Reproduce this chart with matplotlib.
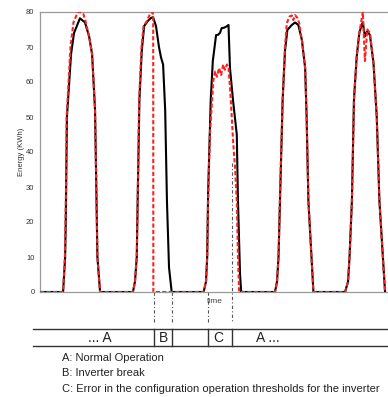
import matplotlib
matplotlib.use("Agg")
import matplotlib.pyplot as plt
from matplotlib.lines import Line2D
import matplotlib.transforms as mtransforms

plt.rcParams['font.family'] = ['Liberation Sans', 'DejaVu Sans']

# Measured energy (black solid) - time in hours
black_t = [0, 7.8, 8.5, 8.7, 8.8, 9.1, 10.5, 11.5, 13.5, 15.2, 16.6, 17.6, 18.6, 19.1, 19.4, 20.3,
           31.4, 32.1, 32.7, 33.0, 33.6, 34.4, 35.2, 36.5, 37.5, 38.2, 39.2, 40.2, 40.9, 41.6, 42.3, 42.9, 43.6, 44.5,
           55.3, 56.1, 56.5, 56.8, 57.7, 58.4, 59.5, 60.2, 60.8, 61.4, 62.2, 63.3, 63.7, 64.2, 65.2, 66.5, 66.9, 67.6, 68.0,
           79.4, 80.1, 80.6, 81.1, 82.0, 82.8, 83.6, 85.1, 86.2, 87.3, 88.5, 89.6, 90.1, 90.7, 92.4,
           103.1, 104.1, 104.6, 105.4, 106.1, 107.0, 107.9, 108.7, 109.1, 109.8, 110.6, 111.5, 112.7, 113.8, 114.7, 116.6]
black_v = [0, 0, 10, 20, 27, 50, 68, 74, 78.2, 77, 73, 68, 52, 26, 10, 0,
           0, 3, 10, 26, 55, 69, 76, 77.5, 78.3, 78.5, 76, 70, 67, 65, 52, 26, 7, 0,
           0, 3, 10, 28, 55, 66, 73.4, 73.5, 74, 75.4, 75.5, 76, 76.3, 64, 55, 45, 26, 5, 0,
           0, 3, 10, 26, 55, 69, 74.9, 76.3, 77, 76.3, 72, 64, 50, 26, 0,
           0, 3, 10, 26, 55, 67, 74, 76.3, 77, 73, 74.5, 73.4, 65.4, 50, 26, 0]

# Expected energy (red dashed)
red_t = [0, 7.8, 8.4, 8.6, 8.8, 9.0, 10.3, 11.3, 12.8, 13.6, 14.6, 15.2, 16.6, 17.6, 18.6, 19.1, 19.4, 20.3,
         31.4, 32.1, 32.7, 33.0, 33.5, 34.3, 35.0, 36.2, 37.2, 38.0, 38.25, 38.3,
         55.3, 56.1, 56.5, 56.8, 57.4, 58.6, 59.2, 59.8, 60.5, 61.2, 61.9, 62.5, 63.2, 63.7, 64.2, 64.8, 65.3, 65.9, 66.5, 66.9, 67.3,
         79.4, 80.1, 80.6, 81.1, 82.0, 82.8, 83.4, 84.3, 85.1, 85.6, 86.2, 87.0, 87.6, 88.5, 89.6, 90.1, 90.7, 92.4,
         103.1, 104.1, 104.6, 105.4, 106.1, 107.0, 107.9, 108.7, 109.1, 109.8, 110.6, 111.5, 112.7, 113.8, 114.7, 116.6]
red_v = [0, 0, 10, 20, 30, 50, 70, 77, 80, 80, 79.5, 78, 73, 68, 52, 26, 10, 0,
         0, 3, 10, 26, 55, 70, 76, 77.5, 79.5, 80, 79, 0,
         0, 3, 10, 26, 45, 60.6, 63, 61.5, 64, 62, 65, 63.5, 65, 64, 58.6, 50, 42.5, 35.7, 26, 10, 0,
         0, 3, 10, 28, 55, 70, 76.8, 78.7, 79, 77.7, 79.1, 78.3, 76.7, 72, 64, 50, 26, 0,
         0, 3, 10, 26, 55, 67, 74, 78, 80, 66, 75, 74, 65.4, 50, 26, 0]

y_ticks = [0, 10, 20, 30, 40, 50, 60, 70, 80]
y_label = "Energy (KWh)"

event_lines = [38.5, 44.6, 56.8, 64.9]
event_line_top = [0, 0, 0, 37]
segment_labels = ["... A", "B", "C", "A ..."]
segment_label_x = [20.3, 41.6, 60.2, 77.1]
legend_lines = ["A: Normal Operation",
                "B: Inverter break",
                "C: Error in the configuration operation thresholds for the inverter"]

W, H = 388, 397
fig = plt.figure(figsize=(W / 100, H / 100), dpi=100)
ax = fig.add_axes([40 / W, 1 - 292 / H, 348 / W, 280 / H])

ax.plot(black_t, black_v, color='black', lw=1.5, zorder=3)
ax.plot(red_t, red_v, color='#ff2020', lw=1.5, ls=(0, (2.0, 1.1)), zorder=4)

ax.set_xlim(0, 117.6)
ax.set_ylim(0, 80)
ax.set_yticks(y_ticks)
ax.set_xticks([])
ax.tick_params(axis='y', length=0, labelsize=5.5, labelcolor='#333333', pad=4)
for side in ['left', 'top', 'bottom']:
    ax.spines[side].set_color('#999999')
    ax.spines[side].set_linewidth(0.9)
ax.spines['right'].set_visible(False)
ax.set_ylabel(y_label, fontsize=5.5, color='#333333', labelpad=1)

# vertical dash-dot event markers
for x, top in zip(event_lines, event_line_top):
    ax.plot([x, x], [top, -8.9], color='#555555', lw=0.8, ls=(0, (3, 2, 1, 2)),
            clip_on=False, zorder=2)

ax.text(59.0, -2.7, "time", fontsize=6, color='#444444', ha='center', va='center')

# table band below the plot
trans = mtransforms.blended_transform_factory(ax.transData, fig.transFigure)
y1 = 1 - 329 / H
y2 = 1 - 346 / H
for yy in (y1, y2):
    fig.add_artist(Line2D([33 / W, 1.0], [yy, yy], transform=fig.transFigure,
                          color='#333333', lw=1.0))
for x in event_lines:
    fig.add_artist(Line2D([x, x], [y1, y2], transform=trans, color='#333333', lw=1.0))
for lab, x in zip(segment_labels, segment_label_x):
    fig.text(x, (y1 + y2) / 2, lab, transform=trans, fontsize=10,
             ha='center', va='center', color='#222222')

for i, txt in enumerate(legend_lines):
    fig.text(62 / W, 1 - (358 + 15.5 * i) / H, txt, fontsize=8.0,
             ha='left', va='center', color='#222222')

fig.savefig("out.png", dpi=100)
